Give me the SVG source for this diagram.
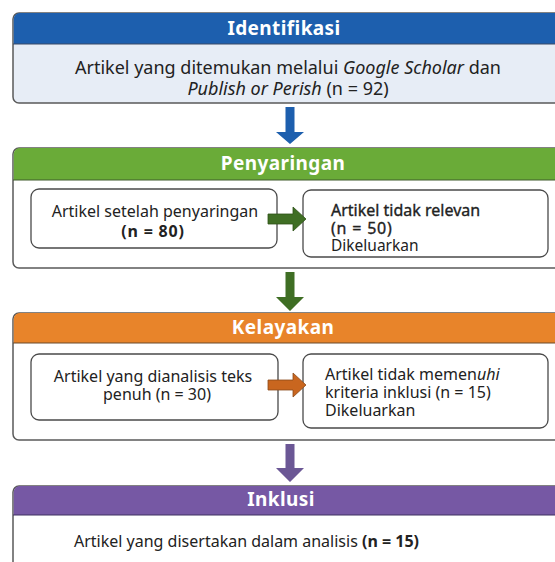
<svg xmlns="http://www.w3.org/2000/svg" width="555" height="562" viewBox="0 0 555 562">
<style>
.outer{stroke:#5a5a5a;stroke-width:1.5}
.inner{fill:#fff;stroke:#4a4a4a;stroke-width:1.3}
.hd{font-family:"Noto Sans",sans-serif;font-size:19px;font-weight:bold;fill:#fff;text-anchor:middle;letter-spacing:0.4px}
.t{font-family:"Noto Sans",sans-serif;font-size:16px;fill:#222}
.big{font-size:18px}
.s{font-size:15.5px}
.m{stroke:#222;stroke-width:0.35px}
.c{text-anchor:middle}
.b{font-weight:bold}
.i{font-style:italic}
</style>
<rect width="555" height="562" fill="#fff"/>
<g id="identifikasi">
<rect class="outer" x="13" y="13" width="560" height="90" rx="6" fill="#e7edf6"/>
<path d="M13.75,44 V19 a6,6 0 0 1 6,-6 H573 V44 Z" fill="#1d5fae"/>
<line x1="13" y1="44" x2="573" y2="44" stroke="#3a4a66" stroke-width="1"/>
<text class="hd" x="284" y="35">Identifikasi</text>
<text class="t big c" x="288" y="74">Artikel yang ditemukan melalui <tspan class="i">Google Scholar</tspan> dan</text>
<text class="t big c" x="288" y="95"><tspan class="i">Publish or Perish</tspan> (n = 92)</text>
</g>
<g id="penyaringan">
<rect class="outer" x="13" y="148" width="560" height="120" rx="6" fill="#fff"/>
<path d="M13.75,180 V154 a6,6 0 0 1 6,-6 H573 V180 Z" fill="#6aab38"/>
<line x1="13" y1="180" x2="573" y2="180" stroke="#3f5a2a" stroke-width="1"/>
<text class="hd" x="283" y="170">Penyaringan</text>
<g id="setelah">
<rect class="inner" x="31" y="189" width="246" height="59" rx="8"/>
<text class="t c" x="155" y="217" font-size="15">Artikel setelah penyaringan</text>
<text class="t c b" x="153" y="237" font-size="17" letter-spacing="0.8">(n = 80)</text>
</g>
<g id="tidak-relevan">
<rect class="inner" x="303" y="190" width="245" height="67" rx="8"/>
<text class="t m" x="331" y="216" font-size="16.5">Artikel tidak relevan</text>
<text class="t m" x="331" y="234" font-size="16.5" letter-spacing="0.8">(n = 50)</text>
<text class="t s" x="331" y="251">Dikeluarkan</text>
</g>
</g>
<g id="kelayakan">
<rect class="outer" x="13" y="313" width="560" height="127" rx="6" fill="#fff"/>
<path d="M13.75,343 V319 a6,6 0 0 1 6,-6 H573 V343 Z" fill="#e8842a"/>
<line x1="13" y1="343" x2="573" y2="343" stroke="#6a4a2a" stroke-width="1"/>
<text class="hd" x="283" y="334">Kelayakan</text>
<g id="teks-penuh">
<rect class="inner" x="31" y="354" width="247" height="66" rx="8"/>
<text class="t c" x="153" y="382">Artikel yang dianalisis teks</text>
<text class="t c" x="157" y="400">penuh (n = 30)</text>
</g>
<g id="tidak-memenuhi">
<rect class="inner" x="303" y="354" width="245" height="74" rx="8"/>
<text class="t" x="325" y="380">Artikel tidak memen<tspan class="i">uhi</tspan></text>
<text class="t" x="325" y="398">kriteria inklusi (n = 15)</text>
<text class="t" x="325" y="416">Dikeluarkan</text>
</g>
</g>
<g id="inklusi">
<rect class="outer" x="13" y="486" width="560" height="100" rx="6" fill="#fff"/>
<path d="M13.75,515 V492 a6,6 0 0 1 6,-6 H573 V515 Z" fill="#7658a4"/>
<line x1="13" y1="515" x2="573" y2="515" stroke="#3e3060" stroke-width="1"/>
<text class="hd" x="281" y="506">Inklusi</text>
<text class="t" x="74" y="547" font-size="17.2">Artikel yang disertakan dalam analisis <tspan class="b">(n = 15)</tspan></text>
</g>
<g id="connectors">
<polygon points="285.5,107 294.5,107 294.5,132 304,132 290,144 276,132 285.5,132" fill="#1d5fae"/>
<polygon points="268,214 293,214 293,207 306,219 293,231 293,224 268,224" fill="#3f6e24" stroke="#2d5018" stroke-width="0.8"/>
<polygon points="285.5,272 294.5,272 294.5,297 304,297 290,311 276,297 285.5,297" fill="#3f6e24"/>
<polygon points="268,380 293,380 293,373 306,385 293,397 293,390 268,390" fill="#c9661f" stroke="#8a4a1a" stroke-width="0.8"/>
<polygon points="285.5,444 294.5,444 294.5,468 304,468 290,482 276,468 285.5,468" fill="#6b5795"/>
</g>
</svg>
